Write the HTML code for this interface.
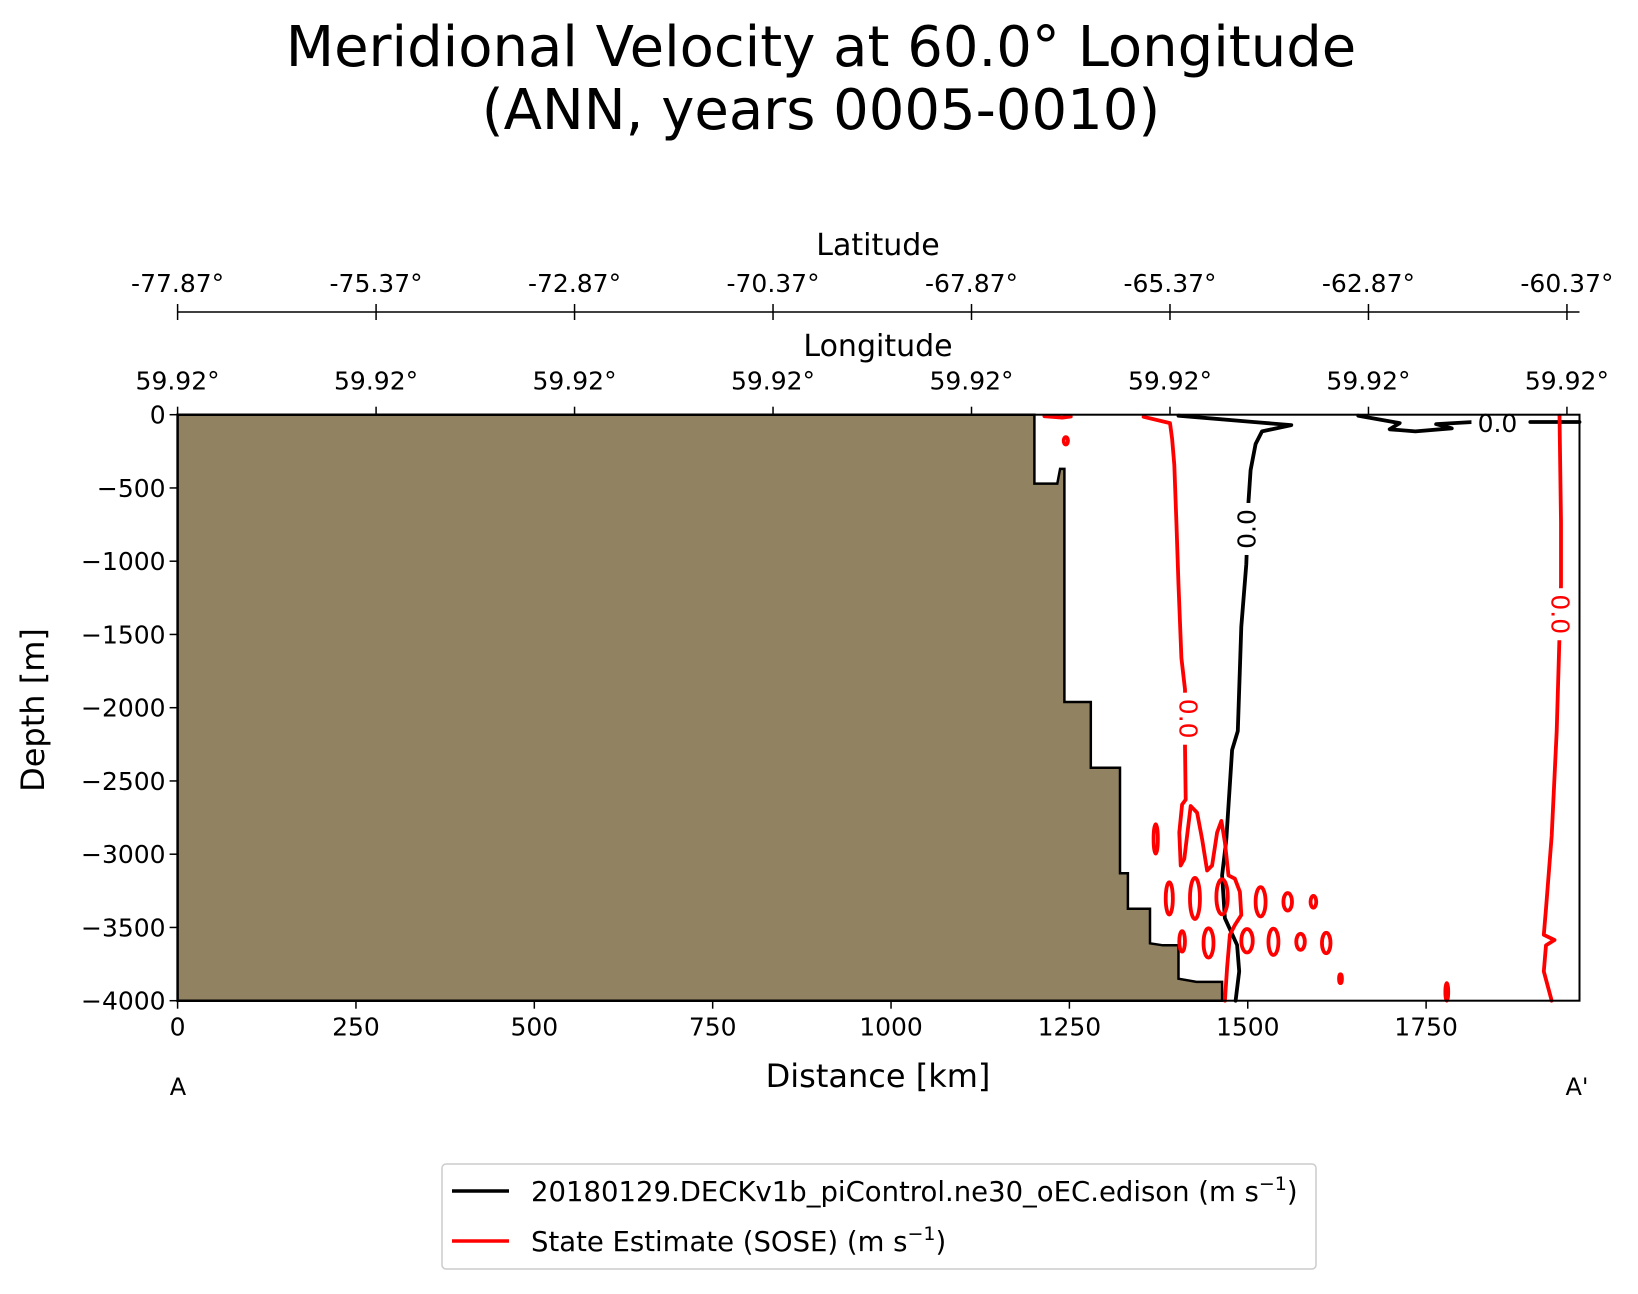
<!DOCTYPE html>
<html><head><meta charset="utf-8"><style>
body{margin:0;background:#fff;}
svg{font-family:"DejaVu Sans","Liberation Sans",sans-serif;}
</style></head><body>
<svg id="chart" width="1638" height="1289" viewBox="0 0 1638 1289" xmlns="http://www.w3.org/2000/svg">
<text x="821" y="66" font-size="56" text-anchor="middle">Meridional Velocity at 60.0° Longitude</text>
<text x="821" y="129" font-size="56" text-anchor="middle">(ANN, years 0005-0010)</text>
<g id="plot"></g>
<g>
<rect x="442" y="1164" width="874" height="105" rx="4" fill="#fff" stroke="#ccc" stroke-width="1.5"/>
<line x1="452" y1="1191" x2="509" y2="1191" stroke="#000" stroke-width="3.5"/>
<text x="531" y="1201" font-size="27.5">20180129.DECKv1b_piControl.ne30_oEC.edison (m s<tspan dy="-11" font-size="19">−1</tspan><tspan dy="11">)</tspan></text>
<line x1="452" y1="1241" x2="509" y2="1241" stroke="#f00" stroke-width="3.5"/>
<text x="531" y="1251" font-size="27.5">State Estimate (SOSE) (m s<tspan dy="-11" font-size="19">−1</tspan><tspan dy="11">)</tspan></text>
</g>
</svg>
<script>
const xTicks=[0,250,500,750,1000,1250,1500,1750];
const yTicks=[0,-500,-1000,-1500,-2000,-2500,-3000,-3500,-4000];
const latLabels=["-77.87°","-75.37°","-72.87°","-70.37°","-67.87°","-65.37°","-62.87°","-60.37°"];
const lonLabels=["59.92°","59.92°","59.92°","59.92°","59.92°","59.92°","59.92°","59.92°"];
const latTickSpacingKm=278.2;
const terrainKm=[0,0,1201,1201,1233,1237,1243,1243,1280,1280,1321,1321,1332,1332,1363,1363,1381,1403,1403,1428,1464,1464];
const terrainDepth=[-4000,0,0,-470,-470,-370,-370,-1961,-1961,-2410,-2410,-3130,-3130,-3373,-3373,-3608,-3622,-3622,-3850,-3872,-3872,-4000];
const blackMainKm=[1403,1508,1561,1520,1511,1504,1501,1498,1491,1486,1478,1470,1464,1468,1485,1488,1483];
const blackMainDepth=[-7,-50,-71,-114,-200,-378,-592,-1020,-1447,-2160,-2289,-2900,-3145,-3437,-3620,-3800,-4000];
const blackTopKm=[1655,1713,1699,1735,1786,1764,1816];
const blackTopDepth=[-7,-57,-100,-114,-93,-64,-50];
const blackEdgeKm=[1896,1965];
const blackEdgeDepth=[-50,-50];
const redMainKm=[1354,1391,1394,1397,1400,1403,1407,1412,1412,1413,1408,1404,1406,1411,1420,1429,1436,1443,1450,1457,1463,1468,1473,1482,1489,1491,1482,1475,1471,1468];
const redMainDepth=[-14,-57,-164,-342,-734,-1162,-1661,-1875,-2267,-2627,-2661,-2852,-3077,-3032,-2671,-2717,-2897,-3111,-3077,-2852,-2773,-2919,-3145,-3167,-3257,-3415,-3483,-3550,-3775,-4000];
const redRightKm=[1937,1939,1939,1933,1926,1918,1915,1930,1918,1915,1926];
const redRightDepth=[-7,-734,-1162,-2160,-2873,-3372,-3550,-3586,-3622,-3800,-4000];
const redTopKm=[1215,1240,1252];
const redTopDepth=[-10,-20,-12];
const blobKm=[1245,1371,1390,1426,1464,1518,1556,1592,1408,1445,1499,1536,1574,1610,1630,1779];
const blobDepth=[-178,-2896,-3302,-3302,-3291,-3325,-3325,-3325,-3595,-3606,-3591,-3598,-3598,-3606,-3850,-3940];
const blobRKm=[3,3,5,7,8,7,6,4,4,7,8,7,6,6,2,2];
const blobRDepth=[25,100,110,140,120,100,60,40,70,100,80,90,55,70,30,60];
const labelKm=[1498,1417,1850,1938];
const labelDepth=[-780,-2075,-55,-1362];
const labelRot=[-90,90,0,90];
const labelColor=["#000","#f00","#000","#f00"];

const L=177.6,R=1579.5,T=414.7,B=1000.7,KMAX=1965,DMIN=-4000;
const X=k=>L+k/KMAX*(R-L);
const Y=d=>T+d/DMIN*(B-T);
const NS="http://www.w3.org/2000/svg";
const g=document.getElementById('plot');
function mk(t,a,p){const e=document.createElementNS(NS,t);for(const k in a)e.setAttribute(k,a[k]);(p||g).appendChild(e);return e;}
function pts(ks,ds){return ks.map((k,i)=>X(k).toFixed(1)+','+Y(ds[i]).toFixed(1)).join(' ');}

let terr=mk('polygon',{points:pts(terrainKm,terrainDepth),fill:'#918262',stroke:'#000','stroke-width':2.5});



function line(ks,ds,c,name){const e=mk('polyline',{points:pts(ks,ds),fill:'none',stroke:c,'stroke-width':3.8,'stroke-linejoin':'round','stroke-linecap':'round'});

}
line(blackMainKm,blackMainDepth,'#000','model-contour-main');
line(blackTopKm,blackTopDepth,'#000','model-contour-top');
line(blackEdgeKm,blackEdgeDepth,'#000','model-contour-edge');
line(redMainKm,redMainDepth,'#f00','sose-contour-main');
line(redRightKm,redRightDepth,'#f00','sose-contour-right');
line(redTopKm,redTopDepth,'#f00','sose-contour-top');
blobKm.forEach((k,i)=>{const e=mk('ellipse',{cx:X(k),cy:Y(blobDepth[i]),rx:Math.abs(X(blobRKm[i])-X(0)),ry:Math.abs(Y(-blobRDepth[i])-Y(0)),fill:'none',stroke:'#f00','stroke-width':3.8});

});
labelKm.forEach((k,i)=>{const x=X(k),y=Y(labelDepth[i]);
const bg=mk('rect',{x:x-26,y:y-14,width:52,height:28,fill:'#fff',transform:`rotate(${labelRot[i]} ${x} ${y})`});


const t=mk('text',{x:x,y:y+9,'font-size':25,'text-anchor':'middle',fill:labelColor[i],transform:`rotate(${labelRot[i]} ${x} ${y})`});
t.textContent='0.0';

});

let fr=mk('rect',{x:L,y:T,width:R-L,height:B-T,fill:'none',stroke:'#000','stroke-width':2});



xTicks.forEach(v=>{const x=X(v);mk('line',{x1:x,y1:B,x2:x,y2:B+8,stroke:'#000','stroke-width':1.5});
const t=mk('text',{x:x,y:B+35,'font-size':25,'text-anchor':'middle'});t.textContent=v;

});
yTicks.forEach(v=>{const y=Y(v);mk('line',{x1:L-8,y1:y,x2:L,y2:y,stroke:'#000','stroke-width':1.5});
const t=mk('text',{x:L-12,y:y+9,'font-size':25,'text-anchor':'end'});t.textContent=v===0?'0':'−'+Math.abs(v);

});
lonLabels.forEach((s,i)=>{const x=X(i*latTickSpacingKm);mk('line',{x1:x,y1:T-8,x2:x,y2:T,stroke:'#000','stroke-width':1.5});
const t=mk('text',{x:x,y:T-25,'font-size':25,'text-anchor':'middle'});t.textContent=s;

});
const LY=312;
mk('line',{x1:L,y1:LY,x2:R,y2:LY,stroke:'#000','stroke-width':1.5});
latLabels.forEach((s,i)=>{const x=X(i*latTickSpacingKm);mk('line',{x1:x,y1:LY-8,x2:x,y2:LY+8,stroke:'#000','stroke-width':1.5});
const t=mk('text',{x:x,y:LY-20,'font-size':25,'text-anchor':'middle'});t.textContent=s;

});
function lab(txt,x,y,sz,name,rot){const t=mk('text',{x:x,y:y,'font-size':sz,'text-anchor':'middle'});if(rot)t.setAttribute('transform',`rotate(${rot} ${x} ${y})`);t.textContent=txt;

}
lab('Latitude',878,255,30,'latitude-axis-title');
lab('Longitude',878,356,30,'longitude-axis-title');
lab('Distance [km]',878,1087,32,'x-axis-title');
lab('Depth [m]',44,710,32,'y-axis-title',-90);
lab('A',178,1095,24,'section-start-label');
lab('A\'',1577,1095,24,'section-end-label');
</script>
</body></html>
